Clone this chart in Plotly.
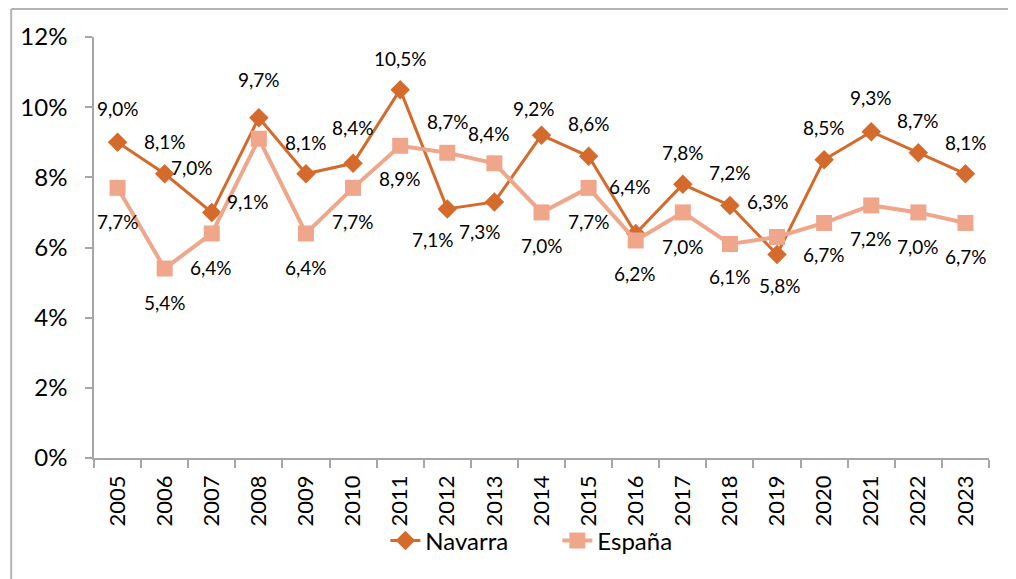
import plotly.graph_objects as go

years = list(range(2005, 2024))
navarra = [9.0, 8.1, 7.0, 9.7, 8.1, 8.4, 10.5, 7.1, 7.3, 9.2, 8.6, 6.4, 7.8, 7.2, 5.8, 8.5, 9.3, 8.7, 8.1]
espana = [7.7, 5.4, 6.4, 9.1, 6.4, 7.7, 8.9, 8.7, 8.4, 7.0, 7.7, 6.2, 7.0, 6.1, 6.3, 6.7, 7.2, 7.0, 6.7]
y_ticks = [0, 2, 4, 6, 8, 10, 12]
y_tick_text = ["0%", "2%", "4%", "6%", "8%", "10%", "12%"]

# label offsets in pixels (dx right, dy up)
nav_off = [(0, 34), (0, 32), (-20, 45), (0, 38), (0, 31), (0, 36), (0, 31), (-14, -31), (-14, -30),
           (-8, 27), (0, 33), (-6, 47), (0, 32), (0, 33), (3, -31), (0, 32), (0, 34), (0, 32), (1, 31)]
esp_off = [(0, -34), (0, -34), (-1, -34), (-11, -63), (0, -34), (0, -34), (0, -33), (1, 31), (-5, 30),
           (0, -33), (0, -34), (-1, -33), (0, -34), (0, -33), (-9, 35), (0, -32), (0, -33), (0, -34), (1, -34)]

C_NAV = "#D46B2C"
C_ESP = "#F0A68B"
FONT = "Lato"

def fmt(v):
    return f"{v:.1f}".replace(".", ",") + "%"

fig = go.Figure()
fig.add_trace(go.Scatter(x=years, y=navarra, name="Navarra", mode="lines+markers",
                         line=dict(color=C_NAV, width=3),
                         marker=dict(symbol="diamond", size=15, color=C_NAV)))
fig.add_trace(go.Scatter(x=years, y=espana, name="España", mode="lines+markers",
                         line=dict(color=C_ESP, width=4),
                         marker=dict(symbol="square", size=16, color=C_ESP)))

annots = []
for yr, v, (dx, dy) in zip(years, navarra, nav_off):
    annots.append(dict(x=yr, y=v, xref="x", yref="y", text=fmt(v), showarrow=False,
                       xshift=dx, yshift=dy, font=dict(family=FONT, size=19, color="#000")))
for yr, v, (dx, dy) in zip(years, espana, esp_off):
    annots.append(dict(x=yr, y=v, xref="x", yref="y", text=fmt(v), showarrow=False,
                       xshift=dx, yshift=dy, font=dict(family=FONT, size=19, color="#000")))

# page body adds ~8px offset; compensate in figure coordinates
OFF = 8
W, H = 1016, 579
L, T = 92 - OFF, 37 - OFF
R = W - (989 - OFF)
B = H - (458 - OFF)
pw, ph = W - L - R, H - T - B
bx = (1 - L) / pw
by = 1 + (T - 1) / ph
bx_end = (W - L) / pw
by_end = -(B) / ph
shapes = [
    dict(type="line", xref="paper", yref="paper", x0=bx, x1=bx_end, y0=by, y1=by,
         line=dict(color="#B3B3B3", width=2)),
    dict(type="line", xref="paper", yref="paper", x0=bx, x1=bx, y0=by, y1=by_end,
         line=dict(color="#B3B3B3", width=2)),
]

leg_x = (384 - OFF - L) / pw
leg_y = (T + ph - (541 - OFF)) / ph

fig.update_layout(
    width=W, height=H,
    margin=dict(l=L, r=R, t=T, b=B, pad=0),
    paper_bgcolor="white", plot_bgcolor="white",
    font=dict(family=FONT, size=22, color="#000"),
    showlegend=True,
    legend=dict(orientation="h", x=leg_x, xanchor="left", y=leg_y,
                yanchor="middle", font=dict(family=FONT, size=24),
                entrywidth=127, entrywidthmode="pixels",
                bgcolor="rgba(0,0,0,0)"),
    annotations=annots,
    shapes=shapes,
    xaxis=dict(range=[years[0] - 0.5, years[-1] + 0.5], tickmode="array", tickvals=years,
               ticktext=[str(y) for y in years], ticks="", showgrid=False, zeroline=False,
               showline=True, linecolor="#A6A6A6", linewidth=1.5,
               tickangle=-90, tickfont=dict(family=FONT, size=22), ticklabelstandoff=7,
               minor=dict(tickmode="linear", tick0=years[0] - 0.5, dtick=1, ticks="outside",
                          ticklen=8, tickcolor="#A6A6A6", tickwidth=1.5, showgrid=False)),
    yaxis=dict(range=[0, 12], tickmode="array", tickvals=y_ticks, ticktext=y_tick_text,
               showgrid=False, zeroline=False,
               showline=True, linecolor="#A6A6A6", linewidth=1.5, ticks="outside", ticklen=7,
               tickcolor="#A6A6A6", tickwidth=1.5, tickfont=dict(family=FONT, size=24),
               ticklabelstandoff=13),
)

fig.write_html("out.html")
